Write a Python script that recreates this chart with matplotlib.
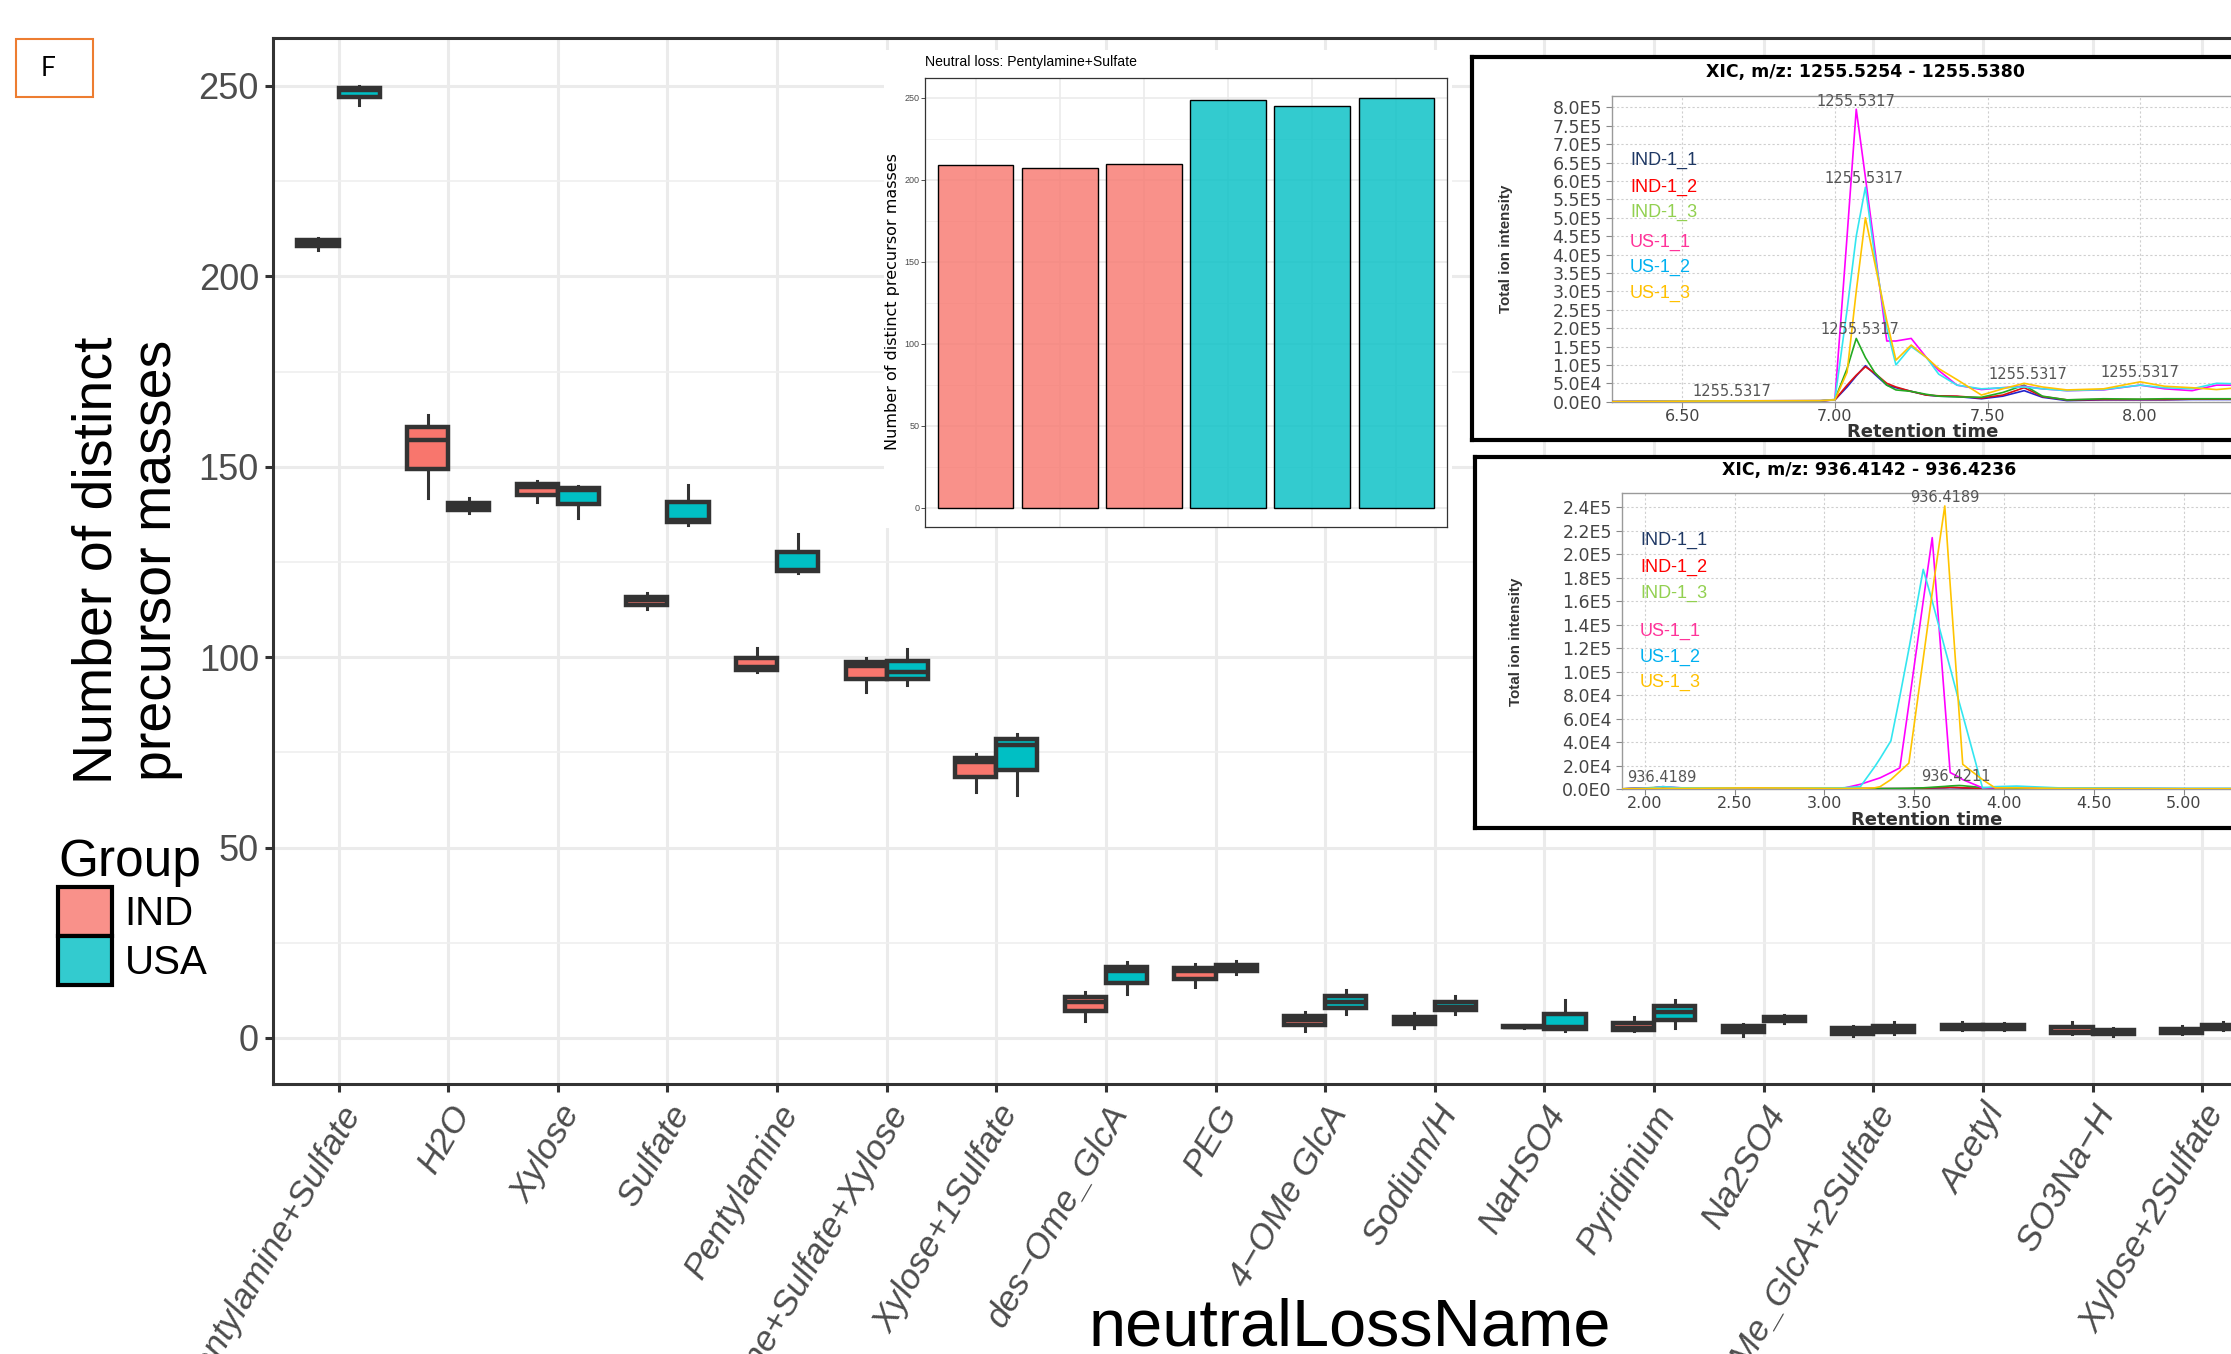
import matplotlib
matplotlib.use("Agg")
import matplotlib.pyplot as plt
import numpy as np
from matplotlib import font_manager
from matplotlib.colors import to_rgba
from matplotlib.patches import Patch, Rectangle
from matplotlib.ticker import MultipleLocator

W, H = 2231, 1354

# ---- main boxplot data: three replicate counts per group ----
loss_names = ["Pentylamine+Sulfate", "H2O", "Xylose", "Sulfate", "Pentylamine",
              "Pentylamine+Sulfate+Xylose", "Xylose+1Sulfate", "des−Ome_GlcA", "PEG",
              "4−OMe GlcA", "Sodium/H", "NaHSO4", "Pyridinium", "Na2SO4",
              "4−OMe_GlcA+2Sulfate", "Acetyl", "SO3Na−H", "Xylose+2Sulfate"]
group_names = ["IND", "USA"]
ind_counts = [[207, 209, 210], [141.7, 157.1, 163.7], [140.7, 144.7, 146.2], [112.6, 114.9, 116.9],
              [96, 97.3, 102.5], [90.8, 97.6, 99.7], [64.6, 72.5, 74.5], [4.5, 9.5, 12.1],
              [13.4, 17.5, 19.3], [1.9, 4.8, 6.9], [2.7, 4.5, 6.6], [2.5, 3.0, 3.3],
              [1.8, 2.5, 5.6], [0.4, 2.5, 3.7], [0.4, 1.8, 3.2], [2.0, 2.8, 4.1],
              [1.0, 1.6, 4.1], [1.0, 1.5, 3.2]]
usa_counts = [[245, 249, 250], [137.8, 139.5, 141.7], [136.5, 143.8, 144.9], [134.8, 136, 145.3],
              [122, 123, 132.4], [92.7, 96, 102.2], [63.7, 77, 79.8], [11.6, 17.5, 19.9],
              [16.8, 18.2, 20.2], [6.3, 9.5, 12.6], [6.3, 8.2, 10.9], [1.8, 2.8, 10],
              [2.5, 6.8, 10], [3.9, 5, 5.9], [1.1, 2.2, 4.1], [2.0, 2.8, 4.0],
              [0.4, 1.5, 2.5], [2.0, 2.8, 4.1]]

# ---- inset bar chart (Pentylamine+Sulfate per sample) ----
bar_samples = ["IND-1_1", "IND-1_2", "IND-1_3", "US-1_1", "US-1_2", "US-1_3"]
bar_groups = ["IND", "IND", "IND", "USA", "USA", "USA"]
bar_counts = [209, 207, 210, 249, 245, 250]

# ---- XIC traces, intensities in units of 1e5 ----
xic_samples = ["IND-1_1", "IND-1_2", "IND-1_3", "US-1_1", "US-1_2", "US-1_3"]
rt1 = [6.26, 6.60, 6.95, 7.00, 7.04, 7.07, 7.10, 7.13, 7.17, 7.20, 7.25, 7.30, 7.34, 7.40,
       7.48, 7.55, 7.62, 7.68, 7.76, 7.88, 8.00, 8.08, 8.17, 8.25, 8.35, 8.45, 8.60]
xic1_ind1 = [0.0, 0.01, 0.02, 0.05, 0.40, 0.70, 0.98, 0.75, 0.45, 0.38, 0.28, 0.18, 0.15, 0.14,
             0.08, 0.15, 0.30, 0.12, 0.03, 0.05, 0.05, 0.05, 0.06, 0.06, 0.06, 0.06, 0.06]
xic1_ind2 = [0.0, 0.01, 0.02, 0.05, 0.45, 0.72, 0.95, 0.78, 0.50, 0.40, 0.28, 0.18, 0.16, 0.15,
             0.10, 0.18, 0.38, 0.14, 0.05, 0.06, 0.06, 0.06, 0.07, 0.07, 0.07, 0.07, 0.07]
xic1_ind3 = [0.0, 0.01, 0.02, 0.06, 0.90, 1.72, 1.20, 0.80, 0.45, 0.32, 0.28, 0.20, 0.15, 0.13,
             0.12, 0.25, 0.45, 0.15, 0.05, 0.08, 0.07, 0.08, 0.08, 0.08, 0.08, 0.08, 0.08]
xic1_us1 = [0.0, 0.02, 0.03, 0.05, 4.50, 7.95, 6.10, 4.20, 1.65, 1.65, 1.72, 1.20, 0.85, 0.45,
            0.33, 0.38, 0.42, 0.35, 0.30, 0.32, 0.45, 0.35, 0.30, 0.45, 0.45, 0.40, 0.42]
xic1_us2 = [0.0, 0.02, 0.03, 0.05, 2.50, 4.50, 5.83, 4.00, 2.00, 1.00, 1.50, 1.20, 0.75, 0.45,
            0.35, 0.38, 0.40, 0.35, 0.30, 0.33, 0.45, 0.38, 0.35, 0.50, 0.48, 0.42, 0.44]
xic1_us3 = [0.0, 0.02, 0.03, 0.05, 0.80, 3.00, 5.00, 3.80, 2.20, 1.13, 1.54, 1.20, 0.90, 0.60,
            0.18, 0.35, 0.50, 0.40, 0.32, 0.35, 0.54, 0.42, 0.38, 0.33, 0.40, 0.40, 0.42]
xic1_peak_rt = [7.07, 7.094, 7.083, 6.664, 7.631, 8.0]
xic1_peak_int = [8.17, 6.07, 1.975, 0.28, 0.75, 0.79]

rt2 = [1.85, 2.05, 2.10, 2.20, 2.60, 3.10, 3.20, 3.28, 3.31, 3.37, 3.42, 3.47, 3.55, 3.60,
       3.67, 3.70, 3.75, 3.77, 3.88, 3.95, 4.07, 4.30, 5.00, 5.60]
xic2_ind1 = [0.0, 0.008, 0.01, 0.005, 0.003, 0.003, 0.003, 0.003, 0.003, 0.003, 0.003, 0.003, 0.005, 0.008,
             0.01, 0.012, 0.01, 0.008, 0.005, 0.004, 0.004, 0.003, 0.002, 0.002]
xic2_ind2 = [0.0, 0.01, 0.012, 0.006, 0.003, 0.003, 0.003, 0.003, 0.003, 0.003, 0.003, 0.004, 0.006, 0.01,
             0.012, 0.014, 0.012, 0.01, 0.006, 0.005, 0.004, 0.003, 0.002, 0.002]
xic2_ind3 = [0.0, 0.012, 0.015, 0.008, 0.004, 0.003, 0.003, 0.003, 0.003, 0.004, 0.005, 0.006, 0.01, 0.015,
             0.022, 0.026, 0.03, 0.028, 0.012, 0.008, 0.006, 0.004, 0.002, 0.002]
xic2_us1 = [0.0, 0.01, 0.02, 0.01, 0.005, 0.005, 0.04, 0.08, 0.095, 0.14, 0.18, 0.72, 1.60, 2.14,
            0.74, 0.14, 0.10, 0.08, 0.01, 0.01, 0.015, 0.005, 0.002, 0.002]
xic2_us2 = [0.0, 0.01, 0.02, 0.01, 0.01, 0.01, 0.02, 0.19, 0.26, 0.41, 0.79, 1.19, 1.87, 1.60,
            1.20, 1.03, 0.74, 0.63, 0.01, 0.02, 0.025, 0.01, 0.005, 0.005]
xic2_us3 = [0.0, 0.005, 0.005, 0.005, 0.01, 0.005, 0.005, 0.01, 0.02, 0.08, 0.15, 0.22, 1.11, 1.67,
            2.41, 1.74, 0.64, 0.21, 0.08, 0.01, 0.01, 0.005, 0.002, 0.002]
xic2_peak_label = ["936.4189", "936.4189", "936.4211"]
xic2_peak_rt = [3.668, 2.095, 3.73]
xic2_peak_int = [2.485, 0.094, 0.108]

IND_COL, USA_COL, DARK = "#F8766D", "#00BFC4", "#333333"
line_cols = ["#2222CC", "#DD1111", "#22AA22", "#FF00FF", "#33E6F0", "#FFC400"]
text_cols = ["#1F3864", "#FF0000", "#92D050", "#FF3399", "#00B0F0", "#FFC000"]

installed = {f.name for f in font_manager.fontManager.ttflist}
NARROW = "Liberation Sans Narrow" if "Liberation Sans Narrow" in installed else "Liberation Sans"
nk = 1.0 if NARROW == "Liberation Sans Narrow" else 0.84
plt.rcParams["font.family"] = ["Liberation Sans", "DejaVu Sans"]


def box(left, top, right, bottom):
    return [left / W, 1 - bottom / H, (right - left) / W, (bottom - top) / H]


def fxy(x, y):
    return x / W, 1 - y / H


def sci_label(v):
    if v == 0:
        return "0.0E0"
    e = int(np.floor(np.log10(v) + 1e-9))
    return f"{v / 10 ** e:.1f}E{e}"


fig = plt.figure(figsize=(W / 100, H / 100), dpi=100)

# ================= main boxplot =================
ax = fig.add_axes(box(272.8, 38, 2268, 1084))
pos = np.arange(1, len(loss_names) + 1)
for counts, off, col in [(ind_counts, -0.1875, IND_COL), (usa_counts, 0.1875, USA_COL)]:
    ax.boxplot(counts, positions=pos + off, widths=0.375, patch_artist=True, showcaps=False,
               showfliers=False, manage_ticks=False, zorder=3,
               boxprops=dict(facecolor=col, edgecolor=DARK, linewidth=3.2),
               medianprops=dict(color=DARK, linewidth=3.2, solid_capstyle="butt"),
               whiskerprops=dict(color=DARK, linewidth=2.2))
ax.set_xlim(0.4, 18.6)
ax.set_ylim(-12.1, 262.6)
ax.set_xticks(pos)
ax.set_xticklabels(loss_names, rotation=60, ha="right", va="top", rotation_mode="anchor",
                   fontsize=25.5, color="#4D4D4D", style="italic")
ax.set_yticks(range(0, 251, 50))
ax.yaxis.set_minor_locator(MultipleLocator(25))
ax.tick_params(axis="y", labelsize=26, labelcolor="#4D4D4D", pad=4)
ax.tick_params(which="major", length=6, width=2.2, color=DARK)
ax.tick_params(axis="x", pad=5)
ax.tick_params(which="minor", length=0)
ax.grid(which="major", color="#EBEBEB", linewidth=2.2)
ax.grid(which="minor", axis="y", color="#EFEFEF", linewidth=1.2)
ax.set_axisbelow(True)
for s in ax.spines.values():
    s.set_color(DARK)
    s.set_linewidth(2.2)

fig.text(*fxy(127, 560), "Number of distinct\nprecursor masses", rotation=90, fontsize=40,
         ha="center", va="center", multialignment="center")
fig.text(*fxy(1350, 1345), "neutralLossName", fontsize=48, ha="center", va="baseline")

handles = [Patch(facecolor=to_rgba(IND_COL, 0.8), edgecolor="black", linewidth=3),
           Patch(facecolor=to_rgba(USA_COL, 0.8), edgecolor="black", linewidth=3)]
fig.legend(handles, group_names, title="Group", loc="upper left", bbox_to_anchor=fxy(58, 838),
           frameon=False, fontsize=29, title_fontsize=37, handlelength=1.35, handleheight=1.5,
           handletextpad=0.3, labelspacing=0.0, borderpad=0, borderaxespad=0, alignment="left")

# panel label
fig.add_artist(Rectangle(fxy(16, 97), 77 / W, 58 / H, transform=fig.transFigure, fill=False,
                         edgecolor="#ED7D31", linewidth=1.5))
fig.text(*fxy(41, 68), "F", fontsize=19, family=["Lato", "DejaVu Sans"], va="center")

# ================= inset bar chart =================
cover = fig.add_axes(box(884, 50, 1452, 528))
cover.set_xticks([])
cover.set_yticks([])
for s in cover.spines.values():
    s.set_visible(False)

bax = fig.add_axes(box(925, 78, 1447, 527))
bpos = np.arange(1, len(bar_samples) + 1)
bcols = [to_rgba(IND_COL if g == "IND" else USA_COL, 0.8) for g in bar_groups]
bax.bar(bpos, bar_counts, width=0.9, color=bcols, edgecolor="black", linewidth=1.0, zorder=3)
bax.set_xlim(0.4, 6.6)
bax.set_ylim(-11.8, 262.2)
bax.set_xticks(bpos)
bax.set_xticklabels([])
bax.tick_params(axis="x", length=0)
bax.set_yticks(range(0, 251, 50))
bax.yaxis.set_minor_locator(MultipleLocator(25))
bax.tick_params(axis="y", labelsize=6.5, labelcolor="#4D4D4D", length=3, width=0.6,
                color=DARK, pad=1)
bax.tick_params(which="minor", length=0)
bax.grid(which="major", color="#EBEBEB", linewidth=1.2)
bax.grid(which="minor", axis="y", color="#EFEFEF", linewidth=0.6)
bax.set_axisbelow(True)
for s in bax.spines.values():
    s.set_color(DARK)
    s.set_linewidth(0.9)
fig.text(*fxy(925, 62), "Neutral loss: Pentylamine+Sulfate", fontsize=12 * nk, family=NARROW,
         va="center")
fig.text(*fxy(893, 302), "Number of distinct precursor masses", rotation=90, fontsize=11.5,
         family="DejaVu Sans", ha="center", va="center")

# ================= XIC panels =================
def xic_panel(frame, plot, xlim, ylim, xt, yt, rt, traces, title, lab_x, lab_y, ylab_xy,
              xlab_xy, title_xy, peaks):
    fr = fig.add_axes(box(*frame))
    fr.set_xticks([])
    fr.set_yticks([])
    for s in fr.spines.values():
        s.set_color("black")
        s.set_linewidth(3)
    xa = fig.add_axes(box(*plot))
    for i, tr in enumerate(traces):
        xa.plot(rt, np.array(tr) * 1e5, color=line_cols[i], linewidth=1.2, zorder=3)
    xa.set_xlim(*xlim)
    xa.set_ylim(*ylim)
    xa.set_xticks(xt)
    xa.set_xticklabels([f"{v:.2f}" for v in xt], family="DejaVu Sans")
    xa.set_yticks(yt)
    xa.set_yticklabels([sci_label(v) for v in yt], family="DejaVu Sans")
    xa.tick_params(labelsize=12.5, labelcolor="#444444", color="#888888", length=4, width=0.8)
    xa.tick_params(axis="x", labelsize=11.5, pad=1)
    xa.tick_params(axis="y", pad=3)
    xa.grid(color="#CFCFCF", linewidth=0.8, linestyle=(0, (2, 2)))
    for s in xa.spines.values():
        s.set_color("#9A9A9A")
        s.set_linewidth(1.0)
    for lab, t, v in peaks:
        xa.text(t, v * 1e5, lab, fontsize=10.5, color="#555555", family="DejaVu Sans",
                ha="center", va="center", zorder=4)
    fig.text(*fxy(*title_xy), title, fontsize=12.5, fontweight="bold", family="DejaVu Sans",
             ha="center", va="center")
    fig.text(*fxy(*xlab_xy), "Retention time", fontsize=13, fontweight="bold",
             family="DejaVu Sans", ha="center", va="baseline", color="#333333")
    fig.text(*fxy(*ylab_xy), "Total ion intensity", rotation=90, fontsize=13 * nk,
             family=NARROW, ha="center", va="center", color="#333333", fontweight="bold")
    for i, name in enumerate(xic_samples):
        fig.text(*fxy(lab_x, lab_y[i]), name, fontsize=13, color=text_cols[i], va="center")


xic_panel(frame=(1472, 57, 2300, 440),
          plot=(1611.7, 96, 1611.7 + (8.6 - 6.269) * 305.3, 401.7),
          xlim=(6.269, 8.6), ylim=(0, 8.31e5),
          xt=[6.5, 7.0, 7.5, 8.0, 8.5], yt=np.arange(17) * 5e4,
          rt=rt1, traces=[xic1_ind1, xic1_ind2, xic1_ind3, xic1_us1, xic1_us2, xic1_us3],
          title="XIC, m/z: 1255.5254 - 1255.5380",
          lab_x=1630, lab_y=[160, 187, 212, 242, 267, 293],
          ylab_xy=(1506, 249), xlab_xy=(1923, 437), title_xy=(1865, 72),
          peaks=[("1255.5317", t, v) for t, v in zip(xic1_peak_rt, xic1_peak_int)])

xic_panel(frame=(1475, 457, 2300, 828),
          plot=(1621.5, 493, 1621.5 + (5.6 - 1.87) * 179.6, 789),
          xlim=(1.87, 5.6), ylim=(0, 2.52e5),
          xt=[2.0, 2.5, 3.0, 3.5, 4.0, 4.5, 5.0, 5.5], yt=np.arange(13) * 2e4,
          rt=rt2, traces=[xic2_ind1, xic2_ind2, xic2_ind3, xic2_us1, xic2_us2, xic2_us3],
          title="XIC, m/z: 936.4142 - 936.4236",
          lab_x=1640, lab_y=[540, 567, 593, 631, 657, 682],
          ylab_xy=(1516, 642), xlab_xy=(1927, 825), title_xy=(1869, 470),
          peaks=list(zip(xic2_peak_label, xic2_peak_rt, xic2_peak_int)))

fig.savefig("out.png", dpi=100)
